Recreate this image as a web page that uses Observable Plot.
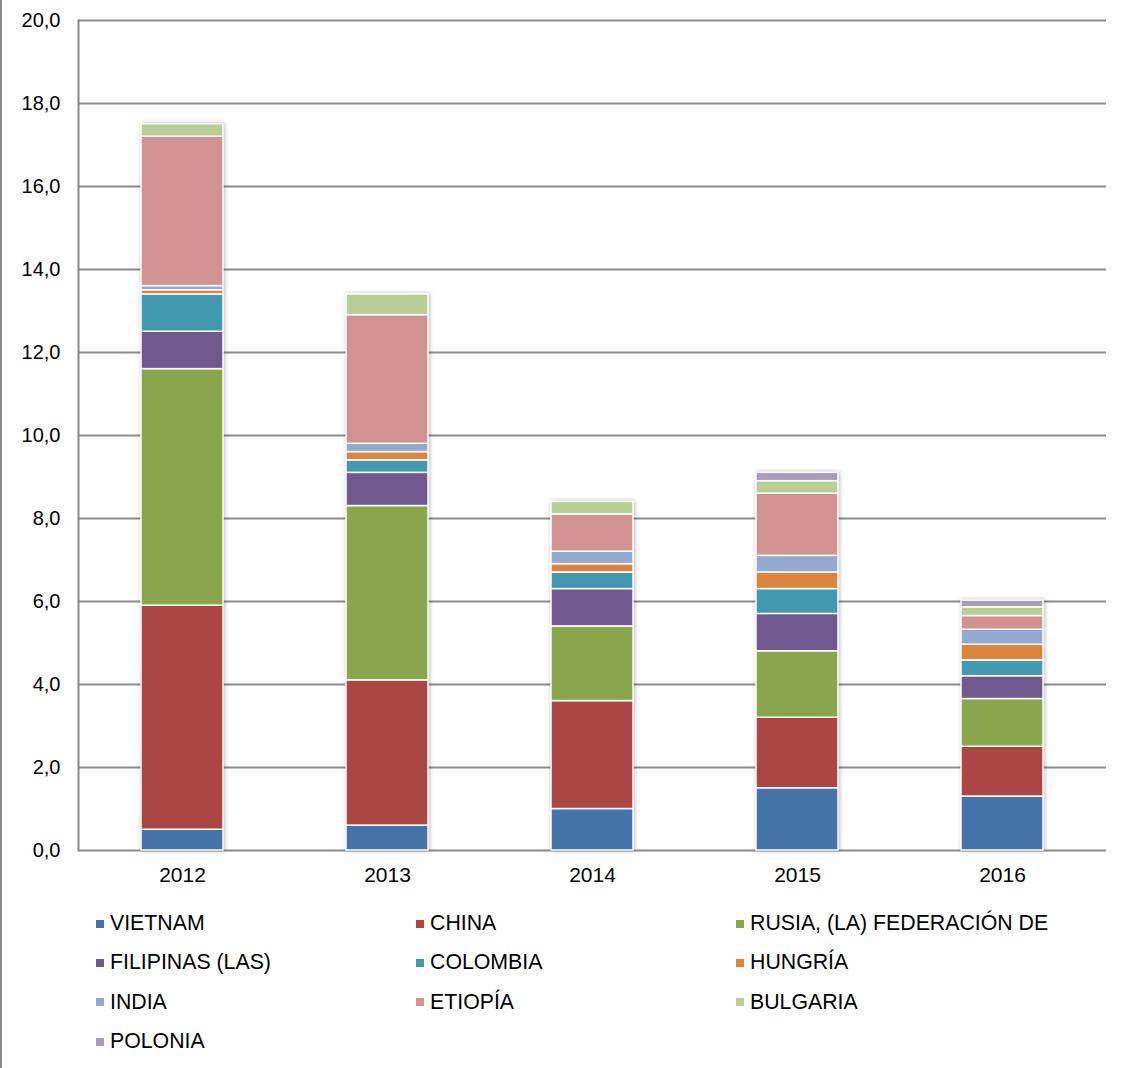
<!DOCTYPE html>
<html>
<head>
<meta charset="utf-8">
<script src="https://cdn.jsdelivr.net/npm/d3@7"></script>
<script src="https://cdn.jsdelivr.net/npm/@observablehq/plot@0.6"></script>
<style>
  html, body { margin: 0; padding: 0; background: #fff; }
  body { width: 1129px; height: 1068px; position: relative; overflow: hidden; font-family: "Liberation Sans", Arial, sans-serif; }
  #border { position: absolute; left: 0; top: 0; width: 2px; height: 1068px; background: #8a8a8a; }
  #chart svg { display: block; }
  g[aria-label="bar"] { filter: drop-shadow(1px 0px 2px rgba(0,0,0,0.28)); }
  #legend { display: grid; grid-template-columns: 320px 320px 320px; margin-left: 96px; margin-top: 9px; }
  .item { display: flex; align-items: center; height: 39.3px; font-size: 21.3px; color: #000; white-space: nowrap; }
  .sw { width: 8px; height: 8px; margin-right: 6px; flex: none; }
</style>
</head>
<body>
<div id="border"></div>
<div id="chart"></div>
<div id="legend"></div>
<script>
const years = ["2012", "2013", "2014", "2015", "2016"];
const countries = ["VIETNAM", "CHINA", "RUSIA, (LA) FEDERACIÓN DE", "FILIPINAS (LAS)", "COLOMBIA", "HUNGRÍA", "INDIA", "ETIOPÍA", "BULGARIA", "POLONIA"];
const colors = ["#4572A7", "#AA4643", "#89A54E", "#71588F", "#4198AF", "#DB843D", "#93A9CF", "#D19392", "#B9CD96", "#A99BBD"];

const vietnam   = [0.5, 0.6, 1.0, 1.5, 1.3];
const china     = [5.4, 3.5, 2.6, 1.7, 1.2];
const rusia     = [5.7, 4.2, 1.8, 1.6, 1.15];
const filipinas = [0.9, 0.8, 0.9, 0.9, 0.55];
const colombia  = [0.9, 0.3, 0.4, 0.6, 0.38];
const hungria   = [0.1, 0.2, 0.2, 0.4, 0.38];
const india     = [0.1, 0.2, 0.3, 0.4, 0.36];
const etiopia   = [3.6, 3.1, 0.9, 1.5, 0.33];
const bulgaria  = [0.3, 0.5, 0.3, 0.3, 0.21];
const polonia   = [0, 0, 0, 0.2, 0.16];

const yTicks = [0, 2, 4, 6, 8, 10, 12, 14, 16, 18, 20];

const series = [vietnam, china, rusia, filipinas, colombia, hungria, india, etiopia, bulgaria, polonia];
const data = [];
series.forEach((vals, i) => vals.forEach((v, j) => data.push({country: countries[i], year: years[j], value: v})));

const fmt = d => d3.format(".1f")(d).replace(".", ",");

const chart = Plot.plot({
  width: 1129,
  height: 895,
  marginLeft: 78,
  marginRight: 23,
  marginTop: 20,
  marginBottom: 45,
  style: {fontFamily: "Liberation Sans, Arial, sans-serif", color: "#000", background: "transparent"},
  x: {domain: years, paddingInner: 0.6, paddingOuter: 0.3, label: null},
  y: {domain: [0, 20], label: null},
  color: {domain: countries, range: colors},
  marks: [
    Plot.gridY(yTicks, {stroke: "#8a8a8a", strokeOpacity: 1, strokeWidth: 2}),
    Plot.frame({anchor: "left", stroke: "#8a8a8a", strokeWidth: 2}),
    Plot.barY(data, Plot.stackY({x: "year", y: "value", fill: "country", stroke: "#fff", strokeWidth: 1.5, order: countries})),
    Plot.axisY(yTicks, {tickSize: 0, tickPadding: 18, tickFormat: fmt, fontSize: 20, label: null}),
    Plot.axisX({tickSize: 0, tickPadding: 17, fontSize: 21, label: null})
  ]
});
document.getElementById("chart").appendChild(chart);

const legend = d3.select("#legend");
countries.forEach((c, i) => {
  const it = legend.append("div").attr("class", "item");
  it.append("div").attr("class", "sw").style("background", colors[i]);
  it.append("span").text(c);
});
</script>
</body>
</html>
